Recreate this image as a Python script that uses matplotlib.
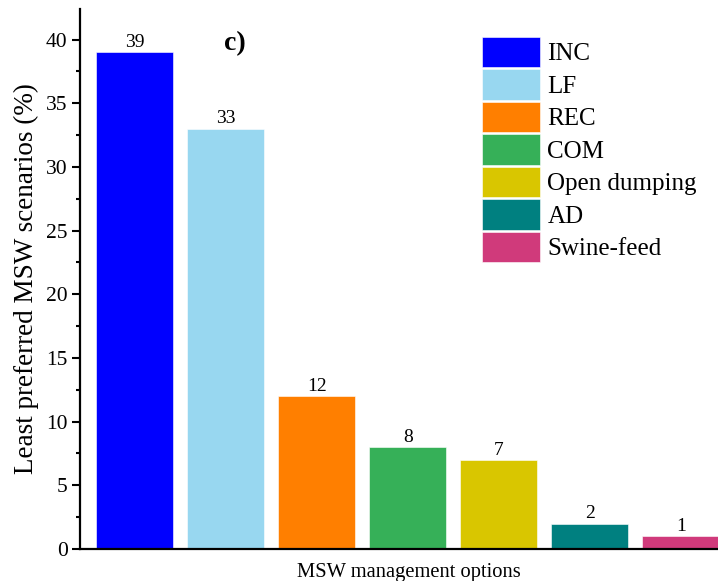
import matplotlib
matplotlib.use('Agg')
import matplotlib.pyplot as plt
from matplotlib.patches import Patch
from matplotlib.ticker import MultipleLocator

plt.rcParams['font.family'] = ['Liberation Serif', 'DejaVu Serif']

# data
options = ['INC', 'LF', 'REC', 'COM', 'Open dumping', 'AD', 'Swine-feed']
values = [39, 33, 12, 8, 7, 2, 1]
colors = ['#0000FF', '#98D7F0', '#FF7F00', '#36B058', '#D9C600', '#008080', '#D03A7B']

fig = plt.figure(figsize=(7.18, 5.81), dpi=100)
ax = fig.add_axes([80 / 718, 1 - 549 / 581, 1 - 80 / 718, (549 - 9) / 581])

x = list(range(1, len(values) + 1))
bars = ax.bar(x, values, width=0.85, color=colors, edgecolor='white', linewidth=0.4)

for xi, v in zip(x, values):
    ax.text(xi, v + 0.1, str(v), ha='center', va='bottom', fontsize=14)

ax.set_xlim(0.4, 7.41)
ax.set_ylim(0, 42.4)
ax.yaxis.set_major_locator(MultipleLocator(5))
ax.yaxis.set_minor_locator(MultipleLocator(2.5))
ax.set_xticks([])
ax.tick_params(axis='y', which='major', direction='out', length=6, width=1.5, labelsize=15.5, pad=3)
ax.tick_params(axis='y', which='minor', direction='out', length=3, width=1.5)

ax.spines['top'].set_visible(False)
ax.spines['right'].set_visible(False)
ax.spines['left'].set_linewidth(1.6)
ax.spines['bottom'].set_linewidth(1.6)

ax.set_ylabel('Least preferred MSW scenarios (%)', fontsize=19.5, labelpad=5)
ax.set_xlabel('MSW management options', fontsize=14.8, labelpad=8)
ax.xaxis.set_label_coords(0.515, -0.025, transform=ax.transAxes)
ax.xaxis.label.set_va('top')

ax.text(2.1, 39.7, 'c)', fontsize=20, fontweight='bold', ha='center', va='center')

handles = [Patch(facecolor=c, edgecolor='white', linewidth=0.4) for c in colors]
ax.legend(handles, options, loc='upper left', bbox_to_anchor=(0.615, 0.967),
          fontsize=18, frameon=False, handlelength=2.3, handleheight=1.5,
          labelspacing=0.08, handletextpad=0.3, borderaxespad=0)

fig.savefig('out.png', dpi=100)
